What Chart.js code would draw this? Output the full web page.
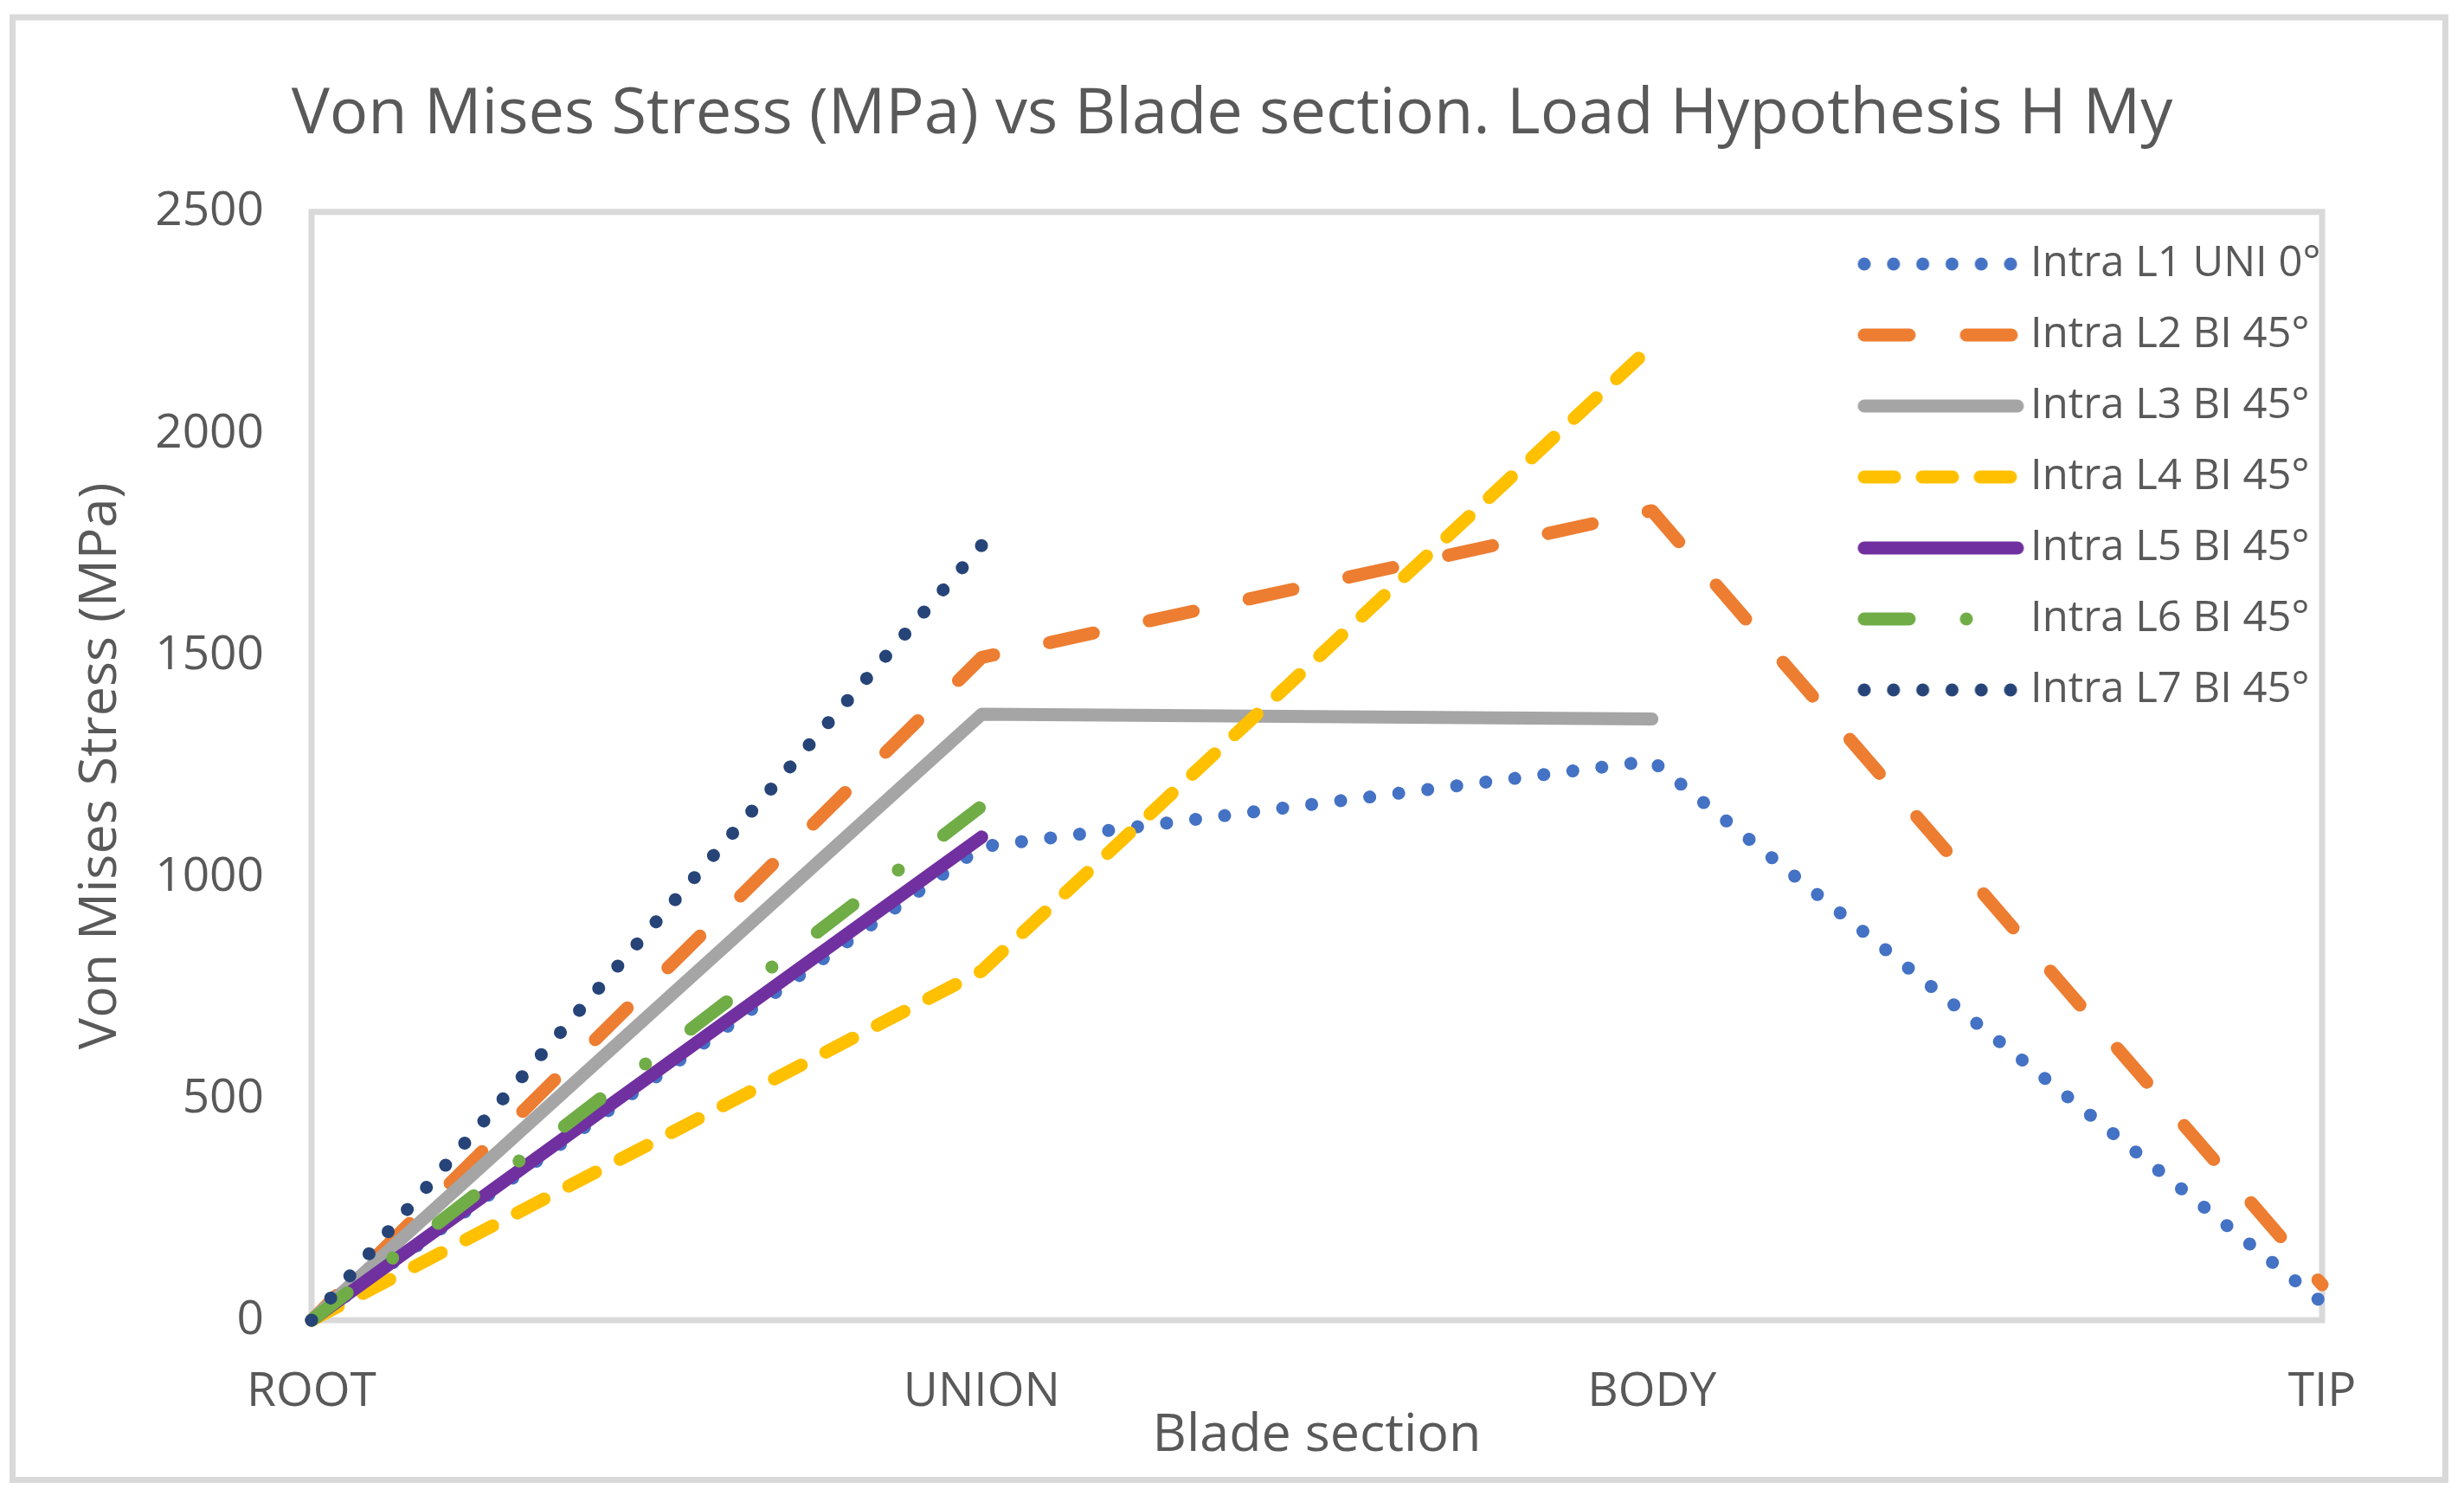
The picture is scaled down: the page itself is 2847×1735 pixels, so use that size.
<!DOCTYPE html>
<html><head><meta charset="utf-8">
<script src="https://cdn.jsdelivr.net/npm/chart.js@4.4.1/dist/chart.umd.min.js"></script>
<style>html,body{margin:0;padding:0;background:#fff;overflow:hidden}canvas{display:block}</style>
</head><body>
<canvas id="c" width="2847" height="1735" style="width:2847px;height:1735px"></canvas>
<script>
// ---- data ----
const categories = ['ROOT', 'UNION', 'BODY', 'TIP'];
const seriesNames = ['Intra L1 UNI 0°', 'Intra L2 BI 45°', 'Intra L3 BI 45°', 'Intra L4 BI 45°', 'Intra L5 BI 45°', 'Intra L6 BI 45°', 'Intra L7 BI 45°'];
const intraL1 = [0, 1068, 1262, 40];
const intraL2 = [0, 1495, 1826, 80];
const intraL3 = [0, 1367, 1356, null];
const intraL4 = [0, 788, 2198, null];
const intraL5 = [0, 1090, null, null];
const intraL6 = [0, 1160, null, null];
const intraL7 = [0, 1748, null, null];
const yMin = 0, yMax = 2500, yStep = 500;
const chartTitle = 'Von Mises Stress (MPa) vs Blade section. Load Hypothesis H My';
const xTitle = 'Blade section';
const yTitle = 'Von Mises Stress (MPa)';

// ---- styles ----
const seriesValues = [intraL1, intraL2, intraL3, intraL4, intraL5, intraL6, intraL7];
const colors = ['#4472C4', '#ED7D31', '#A5A5A5', '#FFC000', '#7030A0', '#70AD47', '#264478'];
const dashes = [[0.1, 33.7], [52, 66], [], [35, 32], [], [52, 66, 0.1, 66], [0.1, 33.7]];
const dashOffsets = [19.7, 11, 0, 0, 0, 0, 0];
const LW = 15;
const FONT = 'Open Sans';
const TXT = '#595959';
const GRAYLINE = '#D9D9D9';

// legend sample images
const BOXW = 180, IW = 240, IH = 30, SOFF = 30 + 5;
function makeSample(i) {
  const c = document.createElement('canvas');
  c.width = IW; c.height = IH;
  const g = c.getContext('2d');
  g.strokeStyle = colors[i];
  g.lineWidth = LW;
  g.lineCap = 'round';
  g.setLineDash(dashes[i]);
  const solid = dashes[i].length === 0;
  g.beginPath();
  g.moveTo(SOFF + 7.5, IH / 2);
  g.lineTo(SOFF + (solid ? 184.5 : 178.5), IH / 2);
  g.stroke();
  return c;
}
const samples = seriesNames.map((_, i) => makeSample(i));

const datasets = seriesNames.map((name, i) => ({
  label: name,
  data: seriesValues[i],
  borderColor: colors[i],
  backgroundColor: colors[i],
  borderWidth: LW,
  borderDash: dashes[i],
  borderDashOffset: dashOffsets[i],
  borderCapStyle: 'round',
  borderJoinStyle: 'round',
  pointRadius: 0,
  pointHoverRadius: 0,
  tension: 0,
  fill: false,
  clip: false,
  yAxisID: 'y',
  order: seriesNames.length - i
}));

const LEG_LEFT = 2108.5, LEG_TOP = 247.5;

const framePlugin = {
  id: 'frame',
  beforeDraw(chart) {
    const ctx = chart.ctx;
    ctx.save();
    ctx.fillStyle = '#fff';
    ctx.fillRect(0, 0, chart.width, chart.height);
    ctx.strokeStyle = GRAYLINE;
    ctx.lineWidth = 7;
    ctx.strokeRect(14.5, 20, 2811, 1689.5);
    ctx.restore();
  },
  beforeDatasetsDraw(chart) {
    const a = chart.chartArea, ctx = chart.ctx;
    ctx.save();
    ctx.strokeStyle = GRAYLINE;
    ctx.lineWidth = 7;
    ctx.strokeRect(a.left, a.top, a.right - a.left, a.bottom - a.top);
    ctx.restore();
  },
  afterLayout(chart) {
    const lg = chart.legend;
    if (!lg) return;
    const w = lg.width;
    lg.left = LEG_LEFT; lg.right = LEG_LEFT + w;
    lg.top = LEG_TOP; lg.bottom = LEG_TOP + 900;
  }
};

new Chart(document.getElementById('c'), {
  type: 'line',
  data: { labels: categories, datasets },
  plugins: [framePlugin],
  options: {
    responsive: false,
    devicePixelRatio: 1,
    animation: false,
    events: [],
    layout: { padding: { left: 0, right: 0, top: 0, bottom: 0 } },
    plugins: {
      tooltip: { enabled: false },
      title: {
        display: true, text: chartTitle, color: TXT,
        font: { family: FONT, size: 74, weight: 'normal' },
        padding: { top: 89, bottom: 67 }
      },
      legend: {
        display: true, position: 'chartArea', align: 'start',
        labels: {
          usePointStyle: true, pointStyleWidth: BOXW, boxHeight: 49,
          padding: 33, color: TXT,
          font: { family: FONT, size: 49 },
          generateLabels(chart) {
            return chart.data.datasets.map((ds, i) => ({
              text: ds.label, fillStyle: colors[i], strokeStyle: colors[i],
              lineWidth: 0, hidden: false, datasetIndex: i,
              pointStyle: samples[i], rotation: 0, fontColor: TXT
            }));
          }
        }
      }
    },
    scales: {
      x: {
        type: 'category', offset: false,
        grid: { display: false, drawTicks: false },
        border: { display: false },
        ticks: { color: TXT, font: { family: FONT, size: 55 }, padding: 50, maxRotation: 0, autoSkip: false },
        title: { display: true, text: xTitle, color: TXT, font: { family: FONT, size: 61 }, padding: { top: 0, bottom: 40 } },
        afterFit(scale) { scale.height = 210; }
      },
      y: {
        min: yMin, max: yMax,
        grid: { display: false, drawTicks: false },
        border: { display: false },
        ticks: { stepSize: yStep, color: TXT, font: { family: FONT, size: 55 }, padding: 55, callback: (v) => String(v) },
        title: { display: true, text: yTitle, color: TXT, font: { family: FONT, size: 61 }, padding: { top: 80, bottom: 0 } },
        afterFit(scale) { scale.width = 360; }
      },
      yRight: {
        type: 'linear', position: 'right', display: true, min: 0, max: 1,
        grid: { display: false, drawTicks: false },
        border: { display: false },
        ticks: { display: false },
        title: { display: false },
        afterFit(scale) { scale.width = 164; }
      }
    }
  }
});
</script>
</body></html>
